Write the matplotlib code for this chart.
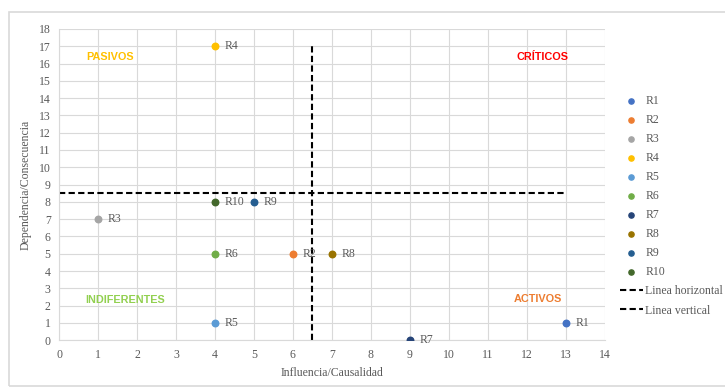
import matplotlib.pyplot as plt
from matplotlib.patches import Rectangle

# data
names = ['R1', 'R2', 'R3', 'R4', 'R5', 'R6', 'R7', 'R8', 'R9', 'R10']
influencia = [13, 6, 1, 4, 4, 4, 9, 7, 5, 4]
dependencia = [1, 5, 7, 17, 1, 5, 0, 5, 8, 8]
colores = ['#4472C4', '#ED7D31', '#A5A5A5', '#FFC000', '#5B9BD5',
           '#70AD47', '#264478', '#997300', '#255E91', '#43682B']

linea_h_x = [0, 13]
linea_h_y = [8.5, 8.5]
linea_v_x = [6.5, 6.5]
linea_v_y = [0, 17]

cuadrantes = ['PASIVOS', 'CRÍTICOS', 'INDIFERENTES', 'ACTIVOS']
cuad_x = [1.3, 12.4, 1.7, 12.3]
cuad_y = [16.4, 16.4, 2.35, 2.4]
cuad_col = ['#FFC000', '#FF0000', '#92D050', '#ED7D31']

plt.rcParams['font.family'] = ['Liberation Serif', 'DejaVu Serif']

fig = plt.figure(figsize=(7.25, 3.91), dpi=100)
fig.patches.append(Rectangle((0.013, 0.012), 0.99, 0.958, transform=fig.transFigure,
                             fill=False, edgecolor='#D9D9D9', linewidth=1.2))
ax = fig.add_axes([0.0814, 0.130, 0.7526, 0.796])

for i in range(len(names)):
    ax.scatter(influencia[i], dependencia[i], s=22, color=colores[i], zorder=3, label=names[i])
    ax.text(influencia[i] + 0.25, dependencia[i], names[i], fontsize=8.5,
            color='#595959', va='center', ha='left', zorder=4)

ax.plot(linea_h_x, linea_h_y, color='black', linestyle='--', linewidth=1.5,
        dashes=(3, 1.6), label='Linea horizontal', zorder=2)
ax.plot(linea_v_x, linea_v_y, color='black', linestyle='--', linewidth=1.5,
        dashes=(3, 1.6), label='Linea vertical', zorder=2)

for t, x, y, c in zip(cuadrantes, cuad_x, cuad_y, cuad_col):
    ax.text(x, y, t, color=c, fontsize=7.8, fontweight='bold', family='Liberation Sans',
            ha='center', va='center')

ax.set_xlim(0, 14)
ax.set_ylim(0, 18)
ax.set_xticks(range(0, 15))
ax.set_yticks(range(0, 19))
ax.grid(True, color='#D9D9D9', linewidth=0.8)
ax.set_axisbelow(True)
for s in ['top', 'right']:
    ax.spines[s].set_visible(False)
for s in ['left', 'bottom']:
    ax.spines[s].set_color('#D9D9D9')
ax.tick_params(length=0, labelsize=8.5, colors='#595959', pad=6)
ax.set_xlabel('Influencia/Causalidad', fontsize=8.5, color='#595959', labelpad=5)
ax.set_ylabel('Dependencia/Consecuencia', fontsize=8.5, color='#595959', labelpad=5)

ax.legend(loc='upper left', bbox_to_anchor=(0.848, 0.77), bbox_transform=fig.transFigure,
          frameon=False, fontsize=8.5, labelcolor='#595959', handlelength=2.0,
          handletextpad=0.2, labelspacing=0.6, borderaxespad=0, markerscale=0.8)

plt.savefig('out.png', dpi=100)
